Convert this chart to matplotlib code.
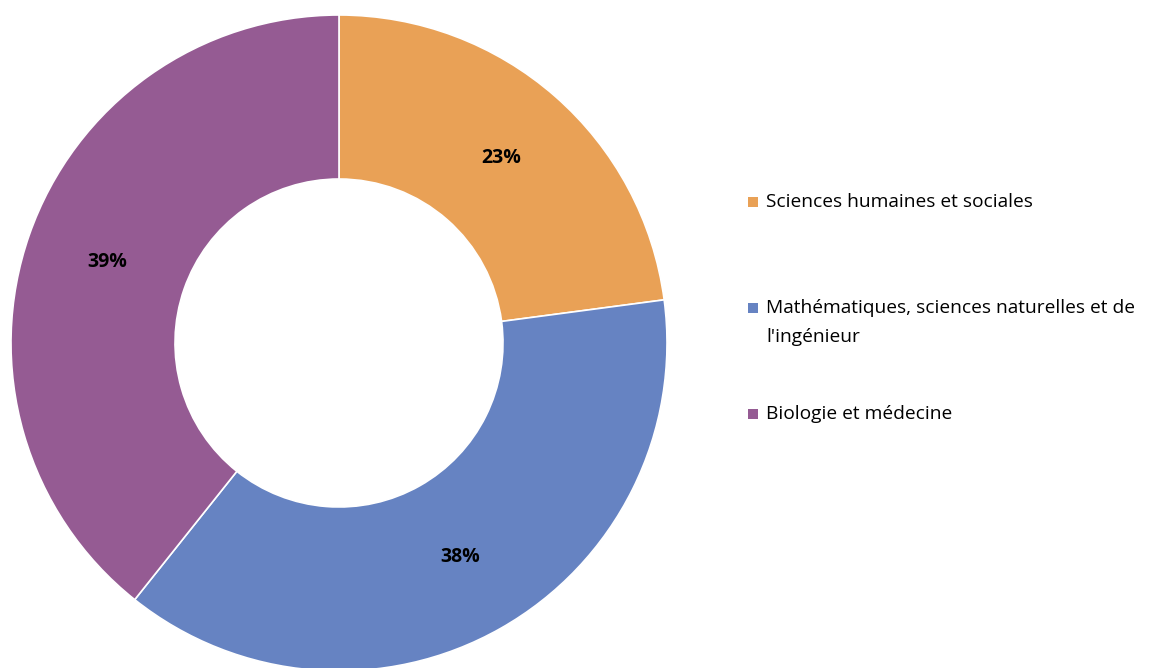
import matplotlib
matplotlib.use("Agg")
import matplotlib.pyplot as plt
from matplotlib.patches import Rectangle

categories = ["Sciences humaines et sociales",
              "Mathématiques, sciences naturelles et de\nl'ingénieur",
              "Biologie et médecine"]
values = [22.9, 37.8, 39.3]
colors = ["#E9A156", "#6683C2", "#955B93"]

W, H = 1151, 668
fig = plt.figure(figsize=(W/100, H/100), dpi=100)
cx, cy, r = 339, 343, 328
ax = fig.add_axes([(cx - r)/W, (H - cy - r)/H, 2*r/W, 2*r/H])
wedges, texts, autotexts = ax.pie(values, colors=colors, startangle=90, counterclock=False,
       radius=1.0, autopct='%.0f%%', pctdistance=0.75,
       wedgeprops=dict(width=0.5, edgecolor='white', linewidth=1.2),
       textprops=dict(fontsize=14, fontweight='bold', color='black', family='Open Sans'))
ax.set_xlim(-1, 1)
ax.set_ylim(-1, 1)
ax.set_aspect('equal')
ax.axis('off')

# legend (manual)
ys = [202, 308, 414]
fs = 13.8
for lab, col, y in zip(categories, colors, ys):
    fig.patches.append(Rectangle((748/W, (H - y - 5)/H), 10/W, 10/H,
                                 transform=fig.transFigure, facecolor=col, edgecolor='none'))
    lines = lab.split('\n')
    for i, line in enumerate(lines):
        fig.text(766/W, (H - y - 29*i)/H, line, fontsize=fs, va='center', ha='left',
                 family='Open Sans')

fig.savefig("out.png", dpi=100)
